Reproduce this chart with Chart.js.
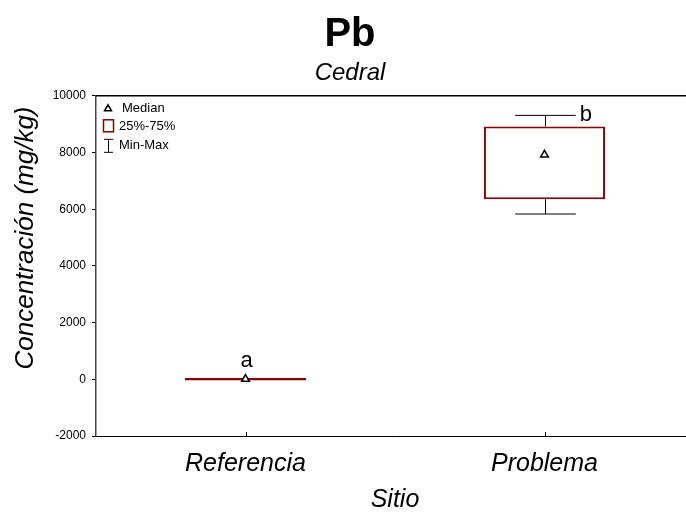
<!DOCTYPE html>
<html>
<head>
<meta charset="utf-8">
<script src="https://cdn.jsdelivr.net/npm/chart.js@4/dist/chart.umd.min.js"></script>
<style>
  html, body { margin: 0; padding: 0; background: #fff; overflow: hidden; }
  #wrap { width: 700px; height: 513px; }
</style>
</head>
<body>
<div id="wrap"><canvas id="chart"></canvas></div>
<script>
const categories = ['Referencia', 'Problema']
const minVals = [-40, 5830]
const q1Vals = [-40, 6350]
const medianVals = [10, 7920]
const q3Vals = [50, 8920]
const maxVals = [50, 9310]
const groupLetters = ['a', 'b']
const yMin = -2000
const yMax = 10000
const yStep = 2000

const FONT = '"Liberation Sans", Arial, sans-serif'
const BOX_RED = '#8b0000'
Chart.defaults.font.family = FONT
Chart.defaults.color = '#000'

// whiskers go under the boxes
const whiskers = {
  id: 'whiskers',
  beforeDatasetsDraw(chart) {
    const { ctx, scales: { x, y } } = chart
    const bars = chart.getDatasetMeta(0).data
    ctx.save()
    ctx.strokeStyle = '#000'
    ctx.lineWidth = 1
    categories.forEach((c, i) => {
      const cx = Math.round(x.getPixelForValue(i)) + 0.5
      const capHalf = bars[i].width / 4
      ctx.beginPath()
      if (maxVals[i] > q3Vals[i]) {
        const yMaxPx = y.getPixelForValue(maxVals[i])
        ctx.moveTo(cx, y.getPixelForValue(q3Vals[i]))
        ctx.lineTo(cx, yMaxPx)
        ctx.moveTo(cx - capHalf, yMaxPx)
        ctx.lineTo(cx + capHalf, yMaxPx)
      }
      if (minVals[i] < q1Vals[i]) {
        const yMinPx = y.getPixelForValue(minVals[i])
        ctx.moveTo(cx, y.getPixelForValue(q1Vals[i]))
        ctx.lineTo(cx, yMinPx)
        ctx.moveTo(cx - capHalf, yMinPx)
        ctx.lineTo(cx + capHalf, yMinPx)
      }
      ctx.stroke()
    })
    ctx.restore()
  },
}

// frame line, letters, legend and the rotated y title
const boxExtras = {
  id: 'boxExtras',
  afterDatasetsDraw(chart) {
    const { ctx, chartArea, scales: { x, y } } = chart
    const bars = chart.getDatasetMeta(0).data
    ctx.save()

    ctx.strokeStyle = '#000'
    ctx.lineWidth = 1.5
    ctx.beginPath()
    ctx.moveTo(chartArea.left, chartArea.top)
    ctx.lineTo(chart.width, chartArea.top)
    ctx.stroke()

    categories.forEach((c, i) => {
      const cx = Math.round(x.getPixelForValue(i)) + 0.5
      const capHalf = bars[i].width / 4
      ctx.strokeStyle = '#000'
      ctx.lineWidth = 1
      ctx.beginPath()
      ctx.moveTo(cx, chartArea.bottom)
      ctx.lineTo(cx, chartArea.bottom - 4)
      ctx.stroke()

      ctx.fillStyle = '#000'
      ctx.font = '22px ' + FONT
      ctx.textBaseline = 'middle'
      const top = y.getPixelForValue(maxVals[i])
      if (i === 0) {
        ctx.textAlign = 'center'
        ctx.fillText(groupLetters[i], cx, top - 17)
      } else {
        ctx.textAlign = 'left'
        ctx.fillText(groupLetters[i], cx + capHalf + 4, top)
      }
    })

    // legend
    const lx = chartArea.left + 12
    const ly = chartArea.top + 12
    ctx.fillStyle = '#fff'
    ctx.strokeStyle = '#000'
    ctx.lineWidth = 1.5
    ctx.beginPath()
    ctx.moveTo(lx, ly - 3)
    ctx.lineTo(lx + 3.5, ly + 3)
    ctx.lineTo(lx - 3.5, ly + 3)
    ctx.closePath()
    ctx.fill()
    ctx.stroke()
    ctx.strokeStyle = BOX_RED
    ctx.strokeRect(lx - 4.5, ly + 12, 10, 12)
    ctx.strokeStyle = '#000'
    ctx.lineWidth = 1
    ctx.beginPath()
    ctx.moveTo(lx - 4, ly + 31.5); ctx.lineTo(lx + 5, ly + 31.5)
    ctx.moveTo(lx + 0.5, ly + 31.5); ctx.lineTo(lx + 0.5, ly + 44.5)
    ctx.moveTo(lx - 4, ly + 44.5); ctx.lineTo(lx + 5, ly + 44.5)
    ctx.stroke()
    ctx.fillStyle = '#000'
    ctx.font = '13px ' + FONT
    ctx.textAlign = 'left'
    ctx.textBaseline = 'middle'
    ctx.fillText('Median', lx + 14, ly + 1)
    ctx.fillText('25%-75%', lx + 11, ly + 19)
    ctx.fillText('Min-Max', lx + 11, ly + 38)

    // y axis title
    ctx.save()
    ctx.translate(26, 238)
    ctx.rotate(-Math.PI / 2)
    ctx.font = 'italic 26px ' + FONT
    ctx.textAlign = 'center'
    ctx.textBaseline = 'middle'
    ctx.fillText('Concentración (mg/kg)', 0, 0)
    ctx.restore()

    ctx.restore()
  },
}

new Chart(document.getElementById('chart'), {
  type: 'bar',
  data: {
    labels: categories,
    datasets: [
      {
        type: 'bar',
        label: '25%-75%',
        data: categories.map((c, i) => [q1Vals[i], q3Vals[i]]),
        backgroundColor: '#fff',
        borderColor: BOX_RED,
        borderWidth: 2,
        borderSkipped: false,
        categoryPercentage: 1,
        barPercentage: 0.405,
        order: 1,
      },
      {
        type: 'line',
        label: 'Median',
        data: medianVals,
        showLine: false,
        pointStyle: 'triangle',
        pointRadius: 4.5,
        pointBackgroundColor: '#fff',
        pointBorderColor: '#000',
        pointBorderWidth: 1.5,
        order: 0,
      },
    ],
  },
  options: {
    responsive: true,
    maintainAspectRatio: false,
    animation: false,
    events: [],
    layout: { padding: 0 },
    plugins: {
      legend: { display: false },
      tooltip: { enabled: false },
      title: {
        display: true,
        text: 'Pb',
        font: { size: 40, weight: 'bold' },
        padding: { top: 11, bottom: 0 },
      },
      subtitle: {
        display: true,
        text: 'Cedral',
        color: '#000',
        font: { size: 24, style: 'italic' },
        padding: { top: 0, bottom: 8 },
      },
    },
    scales: {
      x: {
        grid: { display: false },
        border: { display: true, color: '#000', width: 1 },
        ticks: { font: { size: 25, style: 'italic' }, padding: 5, color: '#000' },
        title: {
          display: true,
          text: 'Sitio',
          font: { size: 25, style: 'italic' },
          padding: { top: 0, bottom: -2 },
        },
        afterFit(scale) { scale.height = 77 },
      },
      y: {
        min: yMin,
        max: yMax,
        grid: { drawOnChartArea: false, drawTicks: true, tickLength: 4, color: '#000' },
        border: { display: true, color: '#444', width: 1.5 },
        ticks: {
          stepSize: yStep,
          font: { size: 12 },
          padding: 6,
          color: '#000',
          callback: (v) => String(v),
        },
        afterFit(scale) { scale.width = 96 },
      },
    },
  },
  plugins: [whiskers, boxExtras],
})
</script>
</body>
</html>
